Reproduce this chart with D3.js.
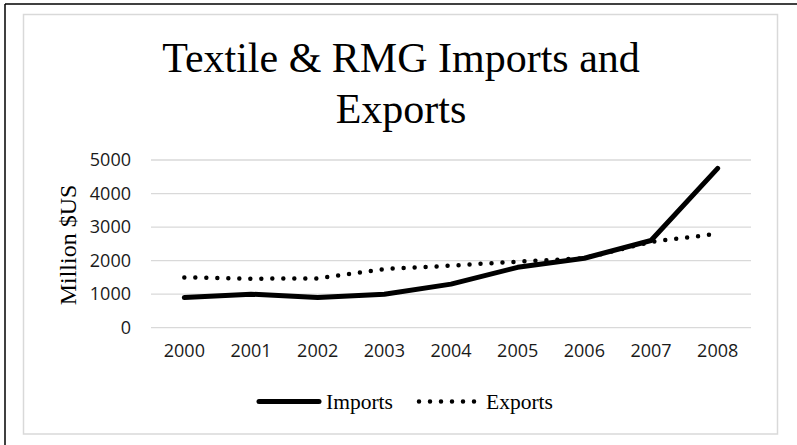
<!DOCTYPE html>
<html>
<head>
<meta charset="utf-8">
<script src="https://cdn.jsdelivr.net/npm/d3@7"></script>
<style>
  body { margin: 0; background: #fff; }
  svg { display: block; }
</style>
</head>
<body>
<div id="chart"></div>
<script>
var years = ["2000", "2001", "2002", "2003", "2004", "2005", "2006", "2007", "2008"];
var imports = [900, 1000, 900, 1000, 1300, 1800, 2070, 2600, 4750];
var exports = [1500, 1460, 1470, 1750, 1850, 1970, 2070, 2560, 2800];
var yTicks = [0, 1000, 2000, 3000, 4000, 5000];

var svgWidth = 797;
var svgHeight = 445;

var plot = { left: 151, right: 751, top: 160, bottom: 327.7 };

var svg = d3.select("#chart")
  .append("svg")
  .attr("width", svgWidth)
  .attr("height", svgHeight);

// page edge lines
svg.append("line")
  .attr("x1", 5).attr("y1", 4).attr("x2", svgWidth).attr("y2", 4)
  .attr("stroke", "#000").attr("stroke-width", 1.5);
svg.append("line")
  .attr("x1", 5).attr("y1", 4).attr("x2", 5).attr("y2", svgHeight)
  .attr("stroke", "#000").attr("stroke-width", 1.5);

// chart area border
svg.append("rect")
  .attr("x", 23.5).attr("y", 14.5)
  .attr("width", 754).attr("height", 419.5)
  .attr("fill", "#fff")
  .attr("stroke", "#d9d9d9")
  .attr("stroke-width", 1.5);

// title
var title = svg.append("text")
  .attr("text-anchor", "middle")
  .attr("font-family", "Liberation Serif, Times New Roman, serif")
  .attr("font-size", 42)
  .attr("fill", "#000");
title.append("tspan").attr("x", 401).attr("y", 72).text("Textile & RMG Imports and");
title.append("tspan").attr("x", 401).attr("y", 123).text("Exports");

var x = d3.scaleBand()
  .domain(years)
  .range([plot.left, plot.right]);

var y = d3.scaleLinear()
  .domain([0, 5000])
  .range([plot.bottom, plot.top]);

// gridlines
svg.append("g")
  .selectAll("line")
  .data(yTicks)
  .enter()
  .append("line")
  .attr("x1", plot.left)
  .attr("x2", plot.right)
  .attr("y1", d => y(d))
  .attr("y2", d => y(d))
  .attr("stroke", "#d9d9d9")
  .attr("stroke-width", 1.3);

// y axis labels
var leftAxis = d3.axisLeft(y)
  .tickValues(yTicks)
  .tickFormat(d3.format("d"))
  .tickSize(0)
  .tickPadding(0);
var yAxis = svg.append("g")
  .attr("transform", "translate(" + (plot.left - 20) + ",0)")
  .call(leftAxis);
yAxis.select(".domain").remove();
yAxis.selectAll("text")
  .attr("font-family", "Open Sans, sans-serif")
  .attr("font-size", 18)
  .attr("fill", "#1a1a1a");

// x axis labels
var bottomAxis = d3.axisBottom(x).tickSize(0).tickPadding(0);
var xAxis = svg.append("g")
  .attr("transform", "translate(0," + (plot.bottom + 17) + ")")
  .call(bottomAxis);
xAxis.select(".domain").remove();
xAxis.selectAll("text")
  .attr("font-family", "Open Sans, sans-serif")
  .attr("font-size", 18)
  .attr("fill", "#1a1a1a");

// y axis title
svg.append("text")
  .attr("transform", "translate(76,245) rotate(-90)")
  .attr("text-anchor", "middle")
  .attr("font-family", "Liberation Serif, Times New Roman, serif")
  .attr("font-size", 24)
  .attr("fill", "#000")
  .text("Million $US");

var cx = d => x(d) + x.bandwidth() / 2;

var seriesLine = d3.line()
  .x((d, i) => cx(years[i]))
  .y(d => y(d));

svg.append("path")
  .datum(exports)
  .attr("d", seriesLine)
  .attr("fill", "none")
  .attr("stroke", "#000")
  .attr("stroke-width", 4.5)
  .attr("stroke-linecap", "round")
  .attr("stroke-dasharray", "0,11");

svg.append("path")
  .datum(imports)
  .attr("d", seriesLine)
  .attr("fill", "none")
  .attr("stroke", "#000")
  .attr("stroke-width", 5)
  .attr("stroke-linecap", "round")
  .attr("stroke-linejoin", "round");

// legend
var legend = svg.append("g");
legend.append("line")
  .attr("x1", 259).attr("x2", 319)
  .attr("y1", 401.5).attr("y2", 401.5)
  .attr("stroke", "#000")
  .attr("stroke-width", 5)
  .attr("stroke-linecap", "round");
legend.append("text")
  .attr("x", 326).attr("y", 408.5)
  .attr("font-family", "Liberation Serif, Times New Roman, serif")
  .attr("font-size", 21.5)
  .text("Imports");
legend.append("line")
  .attr("x1", 419).attr("x2", 475)
  .attr("y1", 401.5).attr("y2", 401.5)
  .attr("stroke", "#000")
  .attr("stroke-width", 4.5)
  .attr("stroke-linecap", "round")
  .attr("stroke-dasharray", "0,11");
legend.append("text")
  .attr("x", 486).attr("y", 408.5)
  .attr("font-family", "Liberation Serif, Times New Roman, serif")
  .attr("font-size", 21.5)
  .text("Exports");
</script>
</body>
</html>
